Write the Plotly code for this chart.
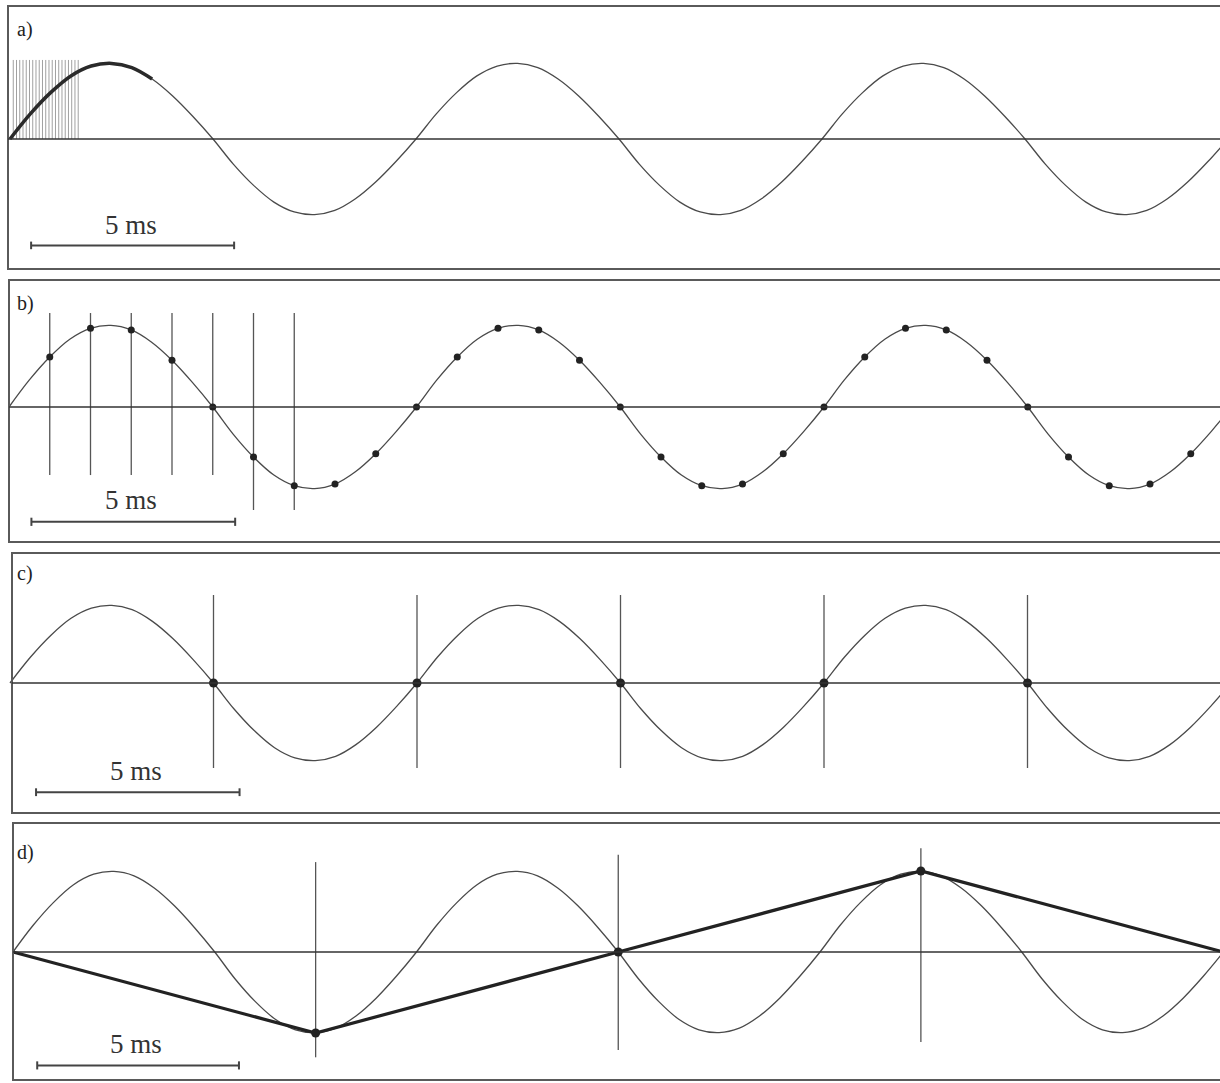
import plotly.graph_objects as go

W, H = 1220, 1083

# ---------------- data ----------------
# underlying 100 Hz tone (period 10 ms) as drawn, read every 0.5 ms
curve_t = [i * 0.5 for i in range(61)]
curve_v = [0, 0.33, 0.61, 0.83, 0.96, 0.995, 0.94, 0.79, 0.57, 0.30,
           0, -0.33, -0.61, -0.83, -0.96, -0.995, -0.94, -0.79, -0.57, -0.30,
           0, 0.33, 0.61, 0.83, 0.96, 0.995, 0.94, 0.79, 0.57, 0.30,
           0, -0.33, -0.61, -0.83, -0.96, -0.995, -0.94, -0.79, -0.57, -0.30,
           0, 0.33, 0.61, 0.83, 0.96, 0.995, 0.94, 0.79, 0.57, 0.30,
           0, -0.33, -0.61, -0.83, -0.96, -0.995, -0.94, -0.79, -0.57, -0.30,
           0]

# a) very dense sampling (first instants only)
a_sample_t = [0.08, 0.16, 0.24, 0.32, 0.40, 0.48, 0.56, 0.64, 0.72, 0.80, 0.88,
              0.96, 1.04, 1.12, 1.20, 1.28, 1.36, 1.44, 1.52, 1.60, 1.68]
a_dense_end_ms = 3.5

# b) 1 kHz sampling
b_t = list(range(1, 30))
b_v = [0.61, 0.96, 0.94, 0.57, 0, -0.61, -0.96, -0.94, -0.57, 0,
       0.61, 0.96, 0.94, 0.57, 0, -0.61, -0.96, -0.94, -0.57, 0,
       0.61, 0.96, 0.94, 0.57, 0, -0.61, -0.96, -0.94, -0.57]
b_lines_t = [1, 2, 3, 4, 5, 6, 7]

# c) sampling at 200 Hz (exactly at zero crossings)
c_t = [5, 10, 15, 20, 25]
c_v = [0, 0, 0, 0, 0]

# d) sampling every 7.5 ms (aliasing)
d_t = [0, 7.5, 15, 22.5, 30]
d_v = [0, -1, 0, 1, 0]

labels = ["a)", "b)", "c)", "d)"]
scale_text = "5 ms"
scale_len_ms = 5

# ---------------- layout geometry (pixels) ----------------
panels = [
    dict(top=6, bot=269, left=8, zero=139, amp=76, org=10, pxms=40.6, lab_y=30, sb=0.52),
    dict(top=280, bot=542, left=9, zero=407, amp=82, org=9, pxms=40.75, lab_y=303, sb=0.55),
    dict(top=553, bot=813, left=12, zero=683, amp=78, org=10, pxms=40.7, lab_y=573, sb=0.64),
    dict(top=823, bot=1080, left=13, zero=952, amp=81, org=13, pxms=40.35, lab_y=852, sb=0.6),
]

CURVE = "#4a4a4a"
DARK = "#222222"
LINE = "#555555"
FONT = "Liberation Serif, Times New Roman, DejaVu Serif, serif"

fig = go.Figure()
layout = dict(width=W, height=H, margin=dict(l=0, r=0, t=0, b=0),
              paper_bgcolor="white", plot_bgcolor="white", showlegend=False,
              hovermode=False, shapes=[], annotations=[],
              font=dict(family=FONT))

for i, p in enumerate(panels):
    n = i + 1
    xa = "xaxis" if n == 1 else f"xaxis{n}"
    ya = "yaxis" if n == 1 else f"yaxis{n}"
    xr = "x" if n == 1 else f"x{n}"
    yr = "y" if n == 1 else f"y{n}"
    layout[xa] = dict(domain=[0, 1], range=[-p["org"] / p["pxms"], (W - p["org"]) / p["pxms"]],
                      visible=False, anchor=yr, fixedrange=True)
    layout[ya] = dict(domain=[1 - p["bot"] / H, 1 - p["top"] / H],
                      range=[(p["zero"] - p["bot"]) / p["amp"], (p["zero"] - p["top"]) / p["amp"]],
                      visible=False, anchor=xr, fixedrange=True)
    # frame
    layout["shapes"].append(dict(type="rect", xref="paper", yref="paper",
                                 x0=p["left"] / W, x1=1.02, y0=1 - p["bot"] / H, y1=1 - p["top"] / H,
                                 line=dict(color="#5a5a5a", width=2), layer="above"))
    # zero line
    layout["shapes"].append(dict(type="line", xref="paper", yref=yr, x0=p["left"] / W, x1=1.0,
                                 y0=0, y1=0, line=dict(color="#333333", width=1.5)))
    # panel label
    layout["annotations"].append(dict(text=labels[i], xref="paper", yref="paper",
                                      x=15 / W, y=1 - p["lab_y"] / H, xanchor="left", yanchor="middle",
                                      showarrow=False, font=dict(family=FONT, size=20, color="#222")))
    # scale bar text
    layout["annotations"].append(dict(text=scale_text, xref=xr, yref=yr, x=p["sb"] + 2.45, y=-1.13,
                                      xanchor="center", yanchor="middle", showarrow=False,
                                      font=dict(family=FONT, size=27, color="#333")))
    # scale bar
    s0, s1 = p["sb"], p["sb"] + scale_len_ms
    fig.add_trace(go.Scatter(x=[s0, s1, None, s0, s0, None, s1, s1],
                             y=[-1.4, -1.4, None, -1.45, -1.35, None, -1.45, -1.35],
                             mode="lines", line=dict(color="#444", width=2),
                             xaxis=xr, yaxis=yr))
    # tone curve
    fig.add_trace(go.Scatter(x=curve_t, y=curve_v, mode="lines",
                             line=dict(color=CURVE, width=1.3, shape="spline"),
                             xaxis=xr, yaxis=yr))

# ---- panel a: dense sampling ----
vx, vy = [], []
for t in a_sample_t:
    vx += [t, t, None]
    vy += [0, 1.04, None]
fig.add_trace(go.Scatter(x=vx, y=vy, mode="lines", line=dict(color="#a0a0a0", width=1),
                         xaxis="x", yaxis="y"))
dense_t = [t for t in curve_t if t <= a_dense_end_ms]
dense_v = curve_v[:len(dense_t)]
fig.add_trace(go.Scatter(x=dense_t, y=dense_v, mode="lines",
                         line=dict(color="#2a2a2a", width=3.5, shape="spline"),
                         xaxis="x", yaxis="y"))

# ---- panel b ----
vx, vy = [], []
for t in b_lines_t:
    bottom = -0.83 if t <= 5 else -1.256
    vx += [t, t, None]
    vy += [1.146, bottom, None]
fig.add_trace(go.Scatter(x=vx, y=vy, mode="lines", line=dict(color=LINE, width=1.3),
                         xaxis="x2", yaxis="y2"))
fig.add_trace(go.Scatter(x=b_t, y=b_v, mode="markers",
                         marker=dict(color=DARK, size=7), xaxis="x2", yaxis="y2"))

# ---- panel c ----
vx, vy = [], []
for t in c_t:
    vx += [t, t, None]
    vy += [1.128, -1.09, None]
fig.add_trace(go.Scatter(x=vx, y=vy, mode="lines", line=dict(color=LINE, width=1.3),
                         xaxis="x3", yaxis="y3"))
fig.add_trace(go.Scatter(x=c_t, y=c_v, mode="markers",
                         marker=dict(color=DARK, size=9), xaxis="x3", yaxis="y3"))

# ---- panel d ----
d_line_ext = [(1.11, -1.30), (1.20, -1.21), (1.28, -1.11)]
vx, vy = [], []
for t, (top, bot) in zip(d_t[1:4], d_line_ext):
    vx += [t, t, None]
    vy += [top, bot, None]
fig.add_trace(go.Scatter(x=vx, y=vy, mode="lines", line=dict(color=LINE, width=1.3),
                         xaxis="x4", yaxis="y4"))
fig.add_trace(go.Scatter(x=d_t, y=d_v, mode="lines", line=dict(color=DARK, width=3.2),
                         xaxis="x4", yaxis="y4"))
fig.add_trace(go.Scatter(x=d_t[1:4], y=d_v[1:4], mode="markers",
                         marker=dict(color=DARK, size=9), xaxis="x4", yaxis="y4"))

fig.update_layout(**layout)
fig.write_html("out.html", config=dict(displayModeBar=False, staticPlot=True),
               post_script="document.body.style.margin='0';document.body.style.overflow='hidden';")
